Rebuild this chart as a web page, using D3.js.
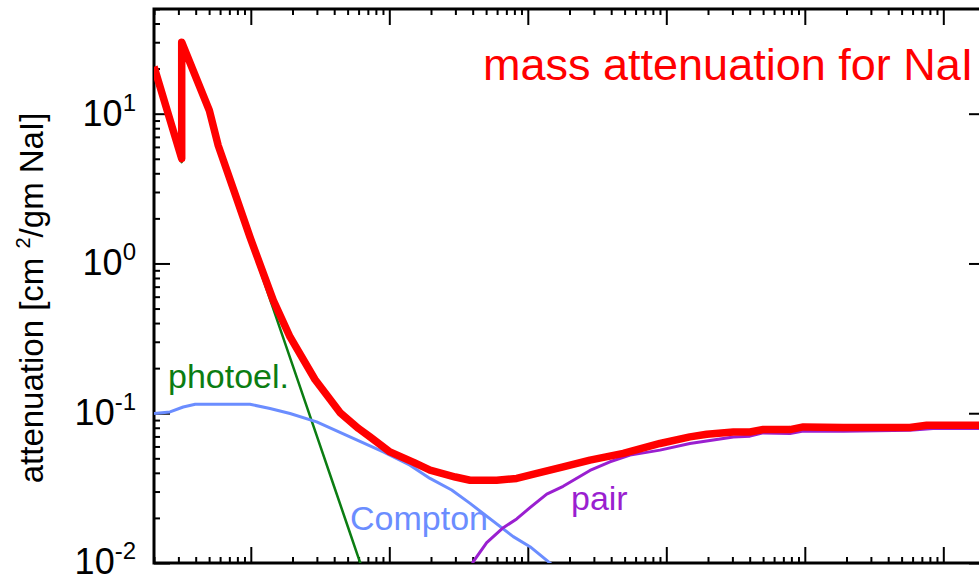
<!DOCTYPE html>
<html>
<head>
<meta charset="utf-8">
<script src="https://cdn.jsdelivr.net/npm/d3@7"></script>
<style>
  html, body { margin: 0; padding: 0; background: #fff; }
  svg { display: block; font-family: "Liberation Sans", Arial, Helvetica, sans-serif; }
</style>
</head>
<body>
<svg id="chart" width="979" height="578"></svg>
<script>
// ---- data (energy in MeV, attenuation in cm^2/g) ----
const totalE = [0.02, 0.0317, 0.0317, 0.0502, 0.0582, 0.0769, 0.0986, 0.1453, 0.192, 0.2907, 0.373, 0.4405, 0.6, 0.7257, 1.011, 1.5, 1.968, 3.0, 3.83, 5.96, 8.31, 11.6, 18.0, 28.1, 48.9, 90, 148, 196, 305, 402, 501, 782, 975, 1895, 5743, 7590, 20000];
const totalV = [20.6, 5.0, 30, 10.5, 6.12, 2.92, 1.50, 0.567, 0.323, 0.168, 0.124, 0.101, 0.079, 0.0695, 0.0552, 0.047, 0.0417, 0.0375, 0.0357, 0.0357, 0.0367, 0.0396, 0.0439, 0.0486, 0.0539, 0.0628, 0.0695, 0.0724, 0.075, 0.075, 0.0778, 0.0778, 0.081, 0.0803, 0.0803, 0.0832, 0.0832];

const photoE = [0.02, 0.0317, 0.0317, 0.0502, 0.0582, 0.0769, 0.0986, 0.1133, 0.15, 0.2, 0.3, 0.4, 0.5, 0.6, 0.8];
const photoV = [19.6, 4.75, 28.5, 10.0, 5.8, 2.78, 1.42, 0.975, 0.457, 0.210, 0.0703, 0.0323, 0.01767, 0.01078, 0.00498];

const comptonE = [0.02, 0.0261, 0.0325, 0.0397, 0.0986, 0.1376, 0.192, 0.299, 0.52, 0.905, 1.41, 1.968, 2.82, 3.83, 7.85, 10.37, 14.06, 17];
const comptonV = [0.0995, 0.102, 0.110, 0.1148, 0.1148, 0.1075, 0.0995, 0.0875, 0.0695, 0.0552, 0.045, 0.0367, 0.0307, 0.025, 0.015, 0.01285, 0.0102, 0.0088];

const pairE = [3.9, 4.04, 5.05, 6.65, 8.31, 10.37, 13.7, 18.0, 28.1, 39.2, 54.7, 90, 148, 305, 402, 501, 782, 975, 1895, 5743, 8430, 20000];
const pairV = [0.0094, 0.0102, 0.0137, 0.0172, 0.0197, 0.0234, 0.0288, 0.0325, 0.0415, 0.0474, 0.0525, 0.0567, 0.0628, 0.0695, 0.0703, 0.0739, 0.0733, 0.0762, 0.0759, 0.077, 0.0791, 0.0791];

const yMajor = [10, 1, 0.1, 0.01];
const yMajorExp = ["1", "0", "-1", "-2"];
const mantissas = [2, 3, 4, 5, 6, 7, 8, 9];

const titleText = "mass attenuation for NaI";

// ---- layout ----
const L = 154, R = 985, T = 9, B = 563;
const svg = d3.select("#chart");

const x = d3.scaleLog().domain([0.02, 20000]).range([L, R]);
const y = d3.scaleLog().domain([0.01, 50]).range([B, T]);

// tick lists derived from decades
const xTicks = [];
[0.01, 0.1, 1, 10, 100, 1000, 10000].forEach(d => {
  [1].concat(mantissas).forEach(m => { const v = d * m; if (v >= 0.02 && v <= 20000) xTicks.push(v); });
});
const yTicks = [];
[0.01, 0.1, 1, 10].forEach(d => {
  [1].concat(mantissas).forEach(m => { const v = d * m; if (v >= 0.01 && v <= 50) yTicks.push(v); });
});
const isMajor = v => Math.abs(Math.log10(v) - Math.round(Math.log10(v))) < 1e-6;

const MAJ = 16, MIN = 6;

function styleAxis(g) {
  g.select(".domain").remove();
  g.selectAll(".tick line").attr("stroke", "#000").attr("stroke-width", 2);
  g.selectAll(".tick text").remove();
}

// bottom
svg.append("g").attr("transform", `translate(0,${B})`)
  .call(d3.axisBottom(x).tickValues(xTicks).tickSize(-MIN).tickFormat(""))
  .call(styleAxis)
  .call(g => g.selectAll(".tick line").attr("y2", d => isMajor(d) ? -MAJ : -MIN));
// top
svg.append("g").attr("transform", `translate(0,${T})`)
  .call(d3.axisTop(x).tickValues(xTicks).tickSize(-MIN).tickFormat(""))
  .call(styleAxis)
  .call(g => g.selectAll(".tick line").attr("y2", d => isMajor(d) ? MAJ : MIN));
// left
svg.append("g").attr("transform", `translate(${L},0)`)
  .call(d3.axisLeft(y).tickValues(yTicks).tickSize(-MIN).tickFormat(""))
  .call(styleAxis)
  .call(g => g.selectAll(".tick line").attr("x2", d => isMajor(d) ? MAJ : MIN));
// right
svg.append("g").attr("transform", `translate(${R},0)`)
  .call(d3.axisRight(y).tickValues(yTicks).tickSize(-MIN).tickFormat(""))
  .call(styleAxis)
  .call(g => g.selectAll(".tick line").attr("x2", d => isMajor(d) ? -MAJ : -MIN));

// frame
svg.append("rect").attr("x", L).attr("y", T).attr("width", R - L).attr("height", B - T)
  .attr("fill", "none").attr("stroke", "#000").attr("stroke-width", 3);

// y tick labels with superscripts
yMajor.forEach((v, i) => {
  const t = svg.append("text")
    .attr("x", 136).attr("y", Math.min(y(v) + 12, 574))
    .attr("text-anchor", "end").attr("font-size", 36).attr("fill", "#000");
  t.append("tspan").text("10");
  t.append("tspan").attr("font-size", 24).attr("dy", -15).text(yMajorExp[i]);
});

// y axis title
const yt = svg.append("text")
  .attr("transform", "translate(43,298) rotate(-90)")
  .attr("text-anchor", "middle").attr("font-size", 33).attr("fill", "#000");
yt.append("tspan").text("attenuation [cm ");
yt.append("tspan").attr("font-size", 20).attr("dy", -13).text("2");
yt.append("tspan").attr("dy", 13).text("/gm NaI]");

// clip
svg.append("clipPath").attr("id", "plotclip")
  .append("rect").attr("x", L).attr("y", T).attr("width", R - L).attr("height", B - T);

const line = d3.line().x(d => x(d[0])).y(d => y(d[1]));
const plot = svg.append("g").attr("clip-path", "url(#plotclip)");

function series(E, V, color, width) {
  plot.append("path")
    .datum(E.map((e, i) => [e, V[i]]))
    .attr("d", line)
    .attr("fill", "none").attr("stroke", color).attr("stroke-width", width)
    .attr("stroke-linejoin", "round");
}
series(photoE, photoV, "#0b7d12", 2.5);
series(comptonE, comptonV, "#6b8dff", 3);
series(pairE, pairV, "#9a1fd0", 3);
series(totalE, totalV, "#ff0000", 7.5);

// inline labels
svg.append("text").attr("x", 168).attr("y", 388).attr("font-size", 34).attr("fill", "#0b7d12").text("photoel.");
svg.append("text").attr("x", 350).attr("y", 530).attr("font-size", 34).attr("fill", "#6b8dff").text("Compton");
svg.append("text").attr("x", 571).attr("y", 510).attr("font-size", 34).attr("fill", "#9a1fd0").text("pair");

// title
svg.append("text").attr("x", 483).attr("y", 80).attr("font-size", 45).attr("fill", "#ff0000").text(titleText);
</script>
</body>
</html>
